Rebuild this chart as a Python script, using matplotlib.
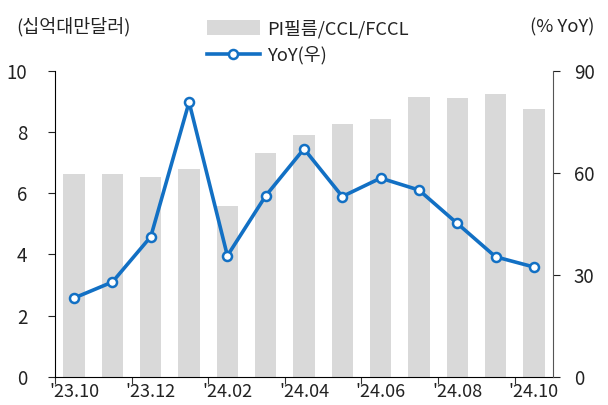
import matplotlib
matplotlib.use("Agg")
import matplotlib.pyplot as plt
import numpy as np

plt.rcParams['font.family'] = ['Noto Sans CJK KR', 'DejaVu Sans']

months = ["'23.10", "'23.11", "'23.12", "'24.01", "'24.02", "'24.03", "'24.04",
          "'24.05", "'24.06", "'24.07", "'24.08", "'24.09", "'24.10"]
sales = [6.61, 6.62, 6.54, 6.79, 5.59, 7.32, 7.90, 8.24, 8.41, 9.13, 9.10, 9.24, 8.74]
yoy = [23.2, 27.9, 41.2, 80.7, 35.6, 53.2, 67.0, 53.0, 58.4, 54.9, 45.1, 35.3, 32.3]

bar_color = '#D9D9D9'
line_color = '#1270C4'
text_color = '#222222'

fig = plt.figure(figsize=(6.08, 4.05), dpi=100)
ax = fig.add_axes([55 / 608, 28 / 405, (553 - 55) / 608, (377 - 70.5) / 405])
ax2 = ax.twinx()

x = np.arange(len(months))
bars = ax.bar(x, sales, width=0.56, color=bar_color, label='PI필름/CCL/FCCL', zorder=1)
line, = ax2.plot(x, yoy, color=line_color, lw=2.6, marker='o', ms=6.5,
                 mfc='white', mec=line_color, mew=1.8, label='YoY(우)', zorder=3)

ax.set_xlim(-0.5, 12.5)
ax.set_ylim(0, 10)
ax.set_yticks(range(0, 11, 2))
ax2.set_ylim(0, 90)
ax2.set_yticks([0, 30, 60, 90])

ax.set_xticks(np.arange(-0.5, 12, 2))
ax.set_xticklabels([])
ax.set_xticks(x[::2], minor=True)
ax.set_xticklabels([months[i] for i in x[::2]], minor=True)
ax.tick_params(axis='x', which='minor', length=0, pad=4, labelsize=13, colors=text_color)
ax.tick_params(axis='x', which='major', length=5, direction='out', color='#333333')
ax.tick_params(axis='y', length=5, labelsize=13.5, pad=15, colors=text_color)
ax2.tick_params(axis='y', length=5, labelsize=13.5, pad=10, colors=text_color)
for a in (ax, ax2):
    a.spines['top'].set_visible(False)
ax2.spines['left'].set_visible(False)
ax2.spines['bottom'].set_visible(False)
ax.spines['right'].set_visible(False)
ax2.spines['right'].set_color('#555555')

fig.text(16 / 608, 1 - 27 / 405, '(십억대만달러)', fontsize=13.3, va='center', color=text_color)
fig.text(595 / 608, 1 - 27 / 405, '(% YoY)', fontsize=13.3, va='center', ha='right', color=text_color)

fig.legend(handles=[bars, line], loc='upper left', bbox_to_anchor=(190 / 608, 1 - 3 / 405),
           frameon=False, fontsize=13.2, handlelength=2.9, handleheight=0.9,
           handletextpad=0.4, labelspacing=0.45, labelcolor=text_color)

fig.savefig('out.png', dpi=100)
